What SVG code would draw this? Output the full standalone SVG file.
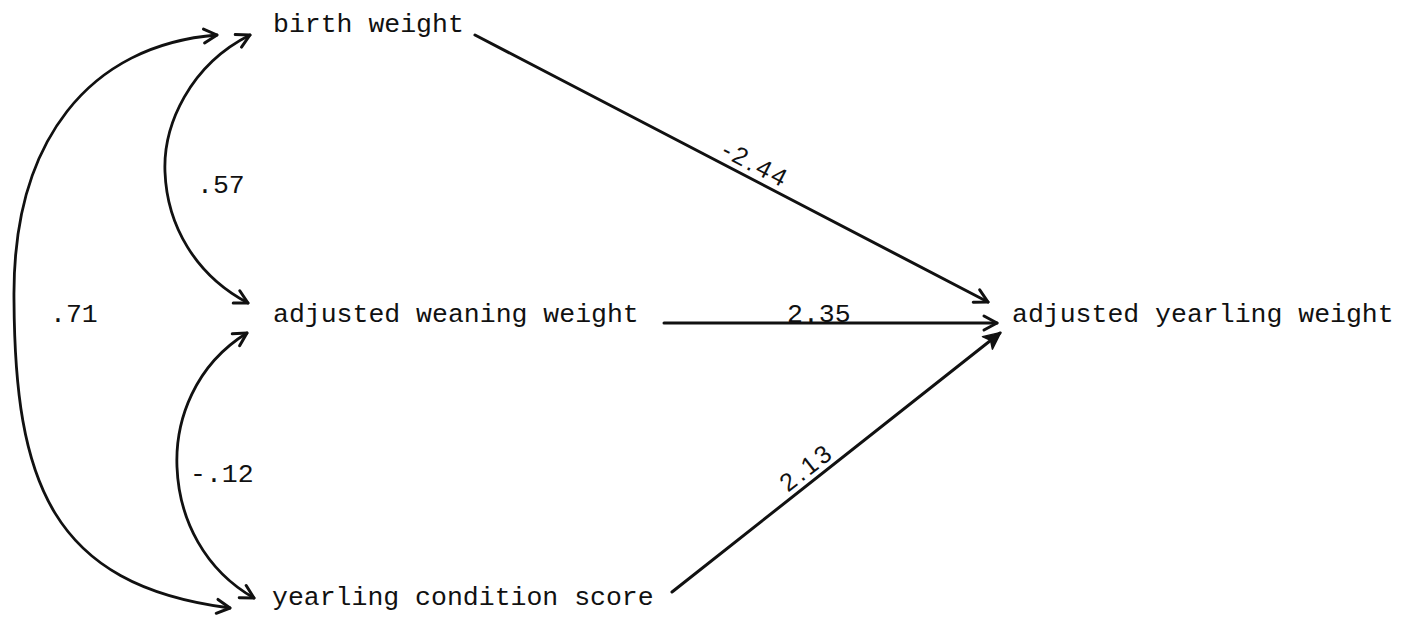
<svg xmlns="http://www.w3.org/2000/svg" width="1408" height="620" viewBox="0 0 1408 620">
<style>
.lbl{font-family:"Liberation Mono","DejaVu Sans Mono",monospace;font-size:26.5px;fill:#111;}
.hand{font-family:"Liberation Sans","DejaVu Sans",sans-serif;font-size:25px;fill:#111;letter-spacing:3px;}
.ln{fill:none;stroke:#111;stroke-width:3;stroke-linecap:round;}
.cv{fill:none;stroke:#111;stroke-width:2.8;stroke-linecap:round;marker-start:url(#v);marker-end:url(#v);}
</style>
<defs>
<marker id="v" markerUnits="userSpaceOnUse" viewBox="0 0 20 20" markerWidth="20" markerHeight="20" refX="16" refY="10" orient="auto-start-reverse">
<path d="M3,3 L16,10 L3,17" fill="none" stroke="#111" stroke-width="3" stroke-linecap="round" stroke-linejoin="round"/>
</marker>
<marker id="f" markerUnits="userSpaceOnUse" viewBox="0 0 22 22" markerWidth="22" markerHeight="22" refX="18" refY="11" orient="auto">
<path d="M2,3 L19,11 L2,19 L6,11 z" fill="#111" stroke="#111" stroke-width="1.5" stroke-linejoin="round"/>
</marker>
</defs>
<rect width="1408" height="620" fill="#fff"/>
<g id="connectors">
<path class="cv" d="M250,35 C190,65 163,125 165,172 C167,225 195,275 248,303"/>
<path class="cv" d="M247,333 C195,365 175,420 177,467 C179,520 205,570 254,598"/>
<path class="cv" d="M217,35 C90,45 12,140 14,300 C15,480 50,585 230,608"/>
<line class="ln" x1="475" y1="35" x2="988" y2="302" marker-end="url(#v)"/>
<line class="ln" x1="664" y1="323" x2="997" y2="323" marker-end="url(#v)"/>
<line class="ln" x1="672" y1="592" x2="1000" y2="333" marker-end="url(#f)"/>
<text class="lbl" x="197" y="193">.57</text>
<text class="lbl" x="190" y="482">-.12</text>
<text class="lbl" x="50" y="322">.71</text>
<text class="lbl" x="787" y="322">2.35</text>
<text class="hand" transform="translate(752,172) rotate(27.5)" text-anchor="middle">-2.44</text>
<text class="hand" transform="translate(812,474) rotate(-38)" text-anchor="middle">2.13</text>
</g>
<g id="birth-weight"><text class="lbl" x="273" y="32">birth weight</text></g>
<g id="adjusted-weaning-weight"><text class="lbl" x="273" y="322">adjusted weaning weight</text></g>
<g id="yearling-condition-score"><text class="lbl" x="272" y="605">yearling condition score</text></g>
<g id="adjusted-yearling-weight"><text class="lbl" x="1012" y="322">adjusted yearling weight</text></g>
</svg>
